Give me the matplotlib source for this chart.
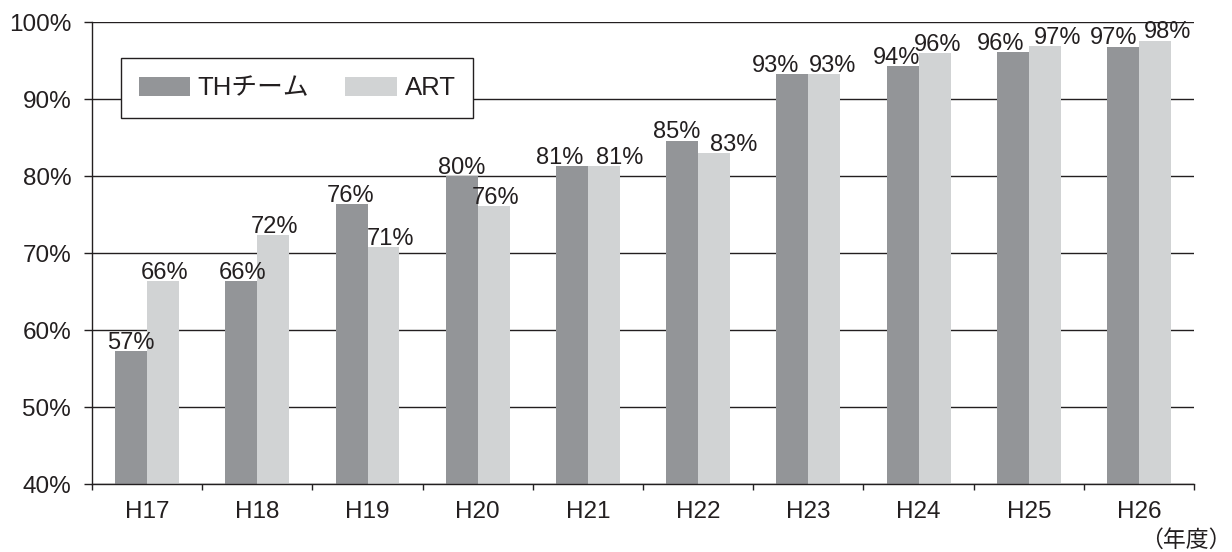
import numpy as np
import matplotlib
matplotlib.use("Agg")
import matplotlib.pyplot as plt

plt.rcParams['font.family'] = ['Liberation Sans', 'Noto Sans CJK JP', 'DejaVu Sans']

# data
years = ['H17', 'H18', 'H19', 'H20', 'H21', 'H22', 'H23', 'H24', 'H25', 'H26']
th_team = [57.3, 66.4, 76.4, 80.0, 81.3, 84.6, 93.2, 94.3, 96.1, 96.8]
art = [66.4, 72.3, 70.8, 76.1, 81.3, 83.0, 93.2, 96.0, 96.9, 97.6]
series_names = ['THチーム', 'ART']
yticks = [40, 50, 60, 70, 80, 90, 100]

# sideways nudges of the value labels (points), like the hand-placed labels of the original
th_label_dx = [0, 1, -1, 0, -9, -4, -12, -4, -9, -7]
art_label_dx = [1, 1, 5, 1, 11, 14, 6, 2, 9, 9]

th_color = '#939598'
art_color = '#d1d3d4'
line_color = '#231f20'
fs = 17


def plotBars(savePath: str):
    """Grouped bar chart with percent labels"""

    fig = plt.figure(figsize=(12.32, 5.52), dpi=100)
    ax = fig.add_axes([0.0747, 0.123, 0.8945, 0.837])

    x = np.arange(len(years))
    w = 0.29
    ax.bar(x - w / 2, th_team, w, color=th_color, label=series_names[0], zorder=2)
    ax.bar(x + w / 2, art, w, color=art_color, label=series_names[1], zorder=2)

    # value labels
    for xi, v, dx in zip(x, th_team, th_label_dx):
        ax.annotate(f'{v:.0f}%', (xi - w / 2, v), xytext=(dx, -2), textcoords='offset points',
                    ha='center', va='bottom', fontsize=fs, color=line_color, zorder=3)
    for xi, v, dx in zip(x, art, art_label_dx):
        ax.annotate(f'{v:.0f}%', (xi + w / 2, v), xytext=(dx, -2), textcoords='offset points',
                    ha='center', va='bottom', fontsize=fs, color=line_color, zorder=3)

    ax.set_ylim(40, 100)
    ax.set_xlim(-0.5, len(years) - 0.5)
    ax.set_yticks(yticks)
    ax.set_yticklabels([f'{t}%' for t in yticks], fontsize=17.5, color=line_color)

    ax.set_xticks(x)
    ax.set_xticklabels(years, fontsize=17.5, color=line_color)
    ax.tick_params(axis='x', which='major', length=0, pad=12)
    ax.set_xticks(np.arange(len(years) + 1) - 0.5, minor=True)
    ax.tick_params(axis='x', which='minor', length=4, width=1, color=line_color, direction='out')
    ax.tick_params(axis='y', length=6, width=1, color=line_color, direction='out', pad=9)

    ax.grid(axis='y', color=line_color, linewidth=1, zorder=1)
    ax.set_axisbelow(True)

    for s in ['top', 'right']:
        ax.spines[s].set_visible(False)
    for s in ['left', 'bottom']:
        ax.spines[s].set_color(line_color)
        ax.spines[s].set_linewidth(1)

    leg = ax.legend(loc='upper left', bbox_to_anchor=(0.026, 0.922), borderaxespad=0,
                    ncol=2, prop={'size': 18.5}, frameon=True, fancybox=False,
                    handlelength=2.0, handleheight=0.75, columnspacing=1.4,
                    borderpad=0.7, handletextpad=0.3)
    leg.get_frame().set_edgecolor(line_color)
    leg.get_frame().set_linewidth(1)
    leg.get_frame().set_alpha(1)
    for t in leg.get_texts():
        t.set_color(line_color)

    fig.text(1.0, 0.0, '（年度）', ha='right', va='bottom', fontsize=16.5, color=line_color)

    plt.savefig(savePath, dpi=100)
    plt.close()


plotBars('out.png')
